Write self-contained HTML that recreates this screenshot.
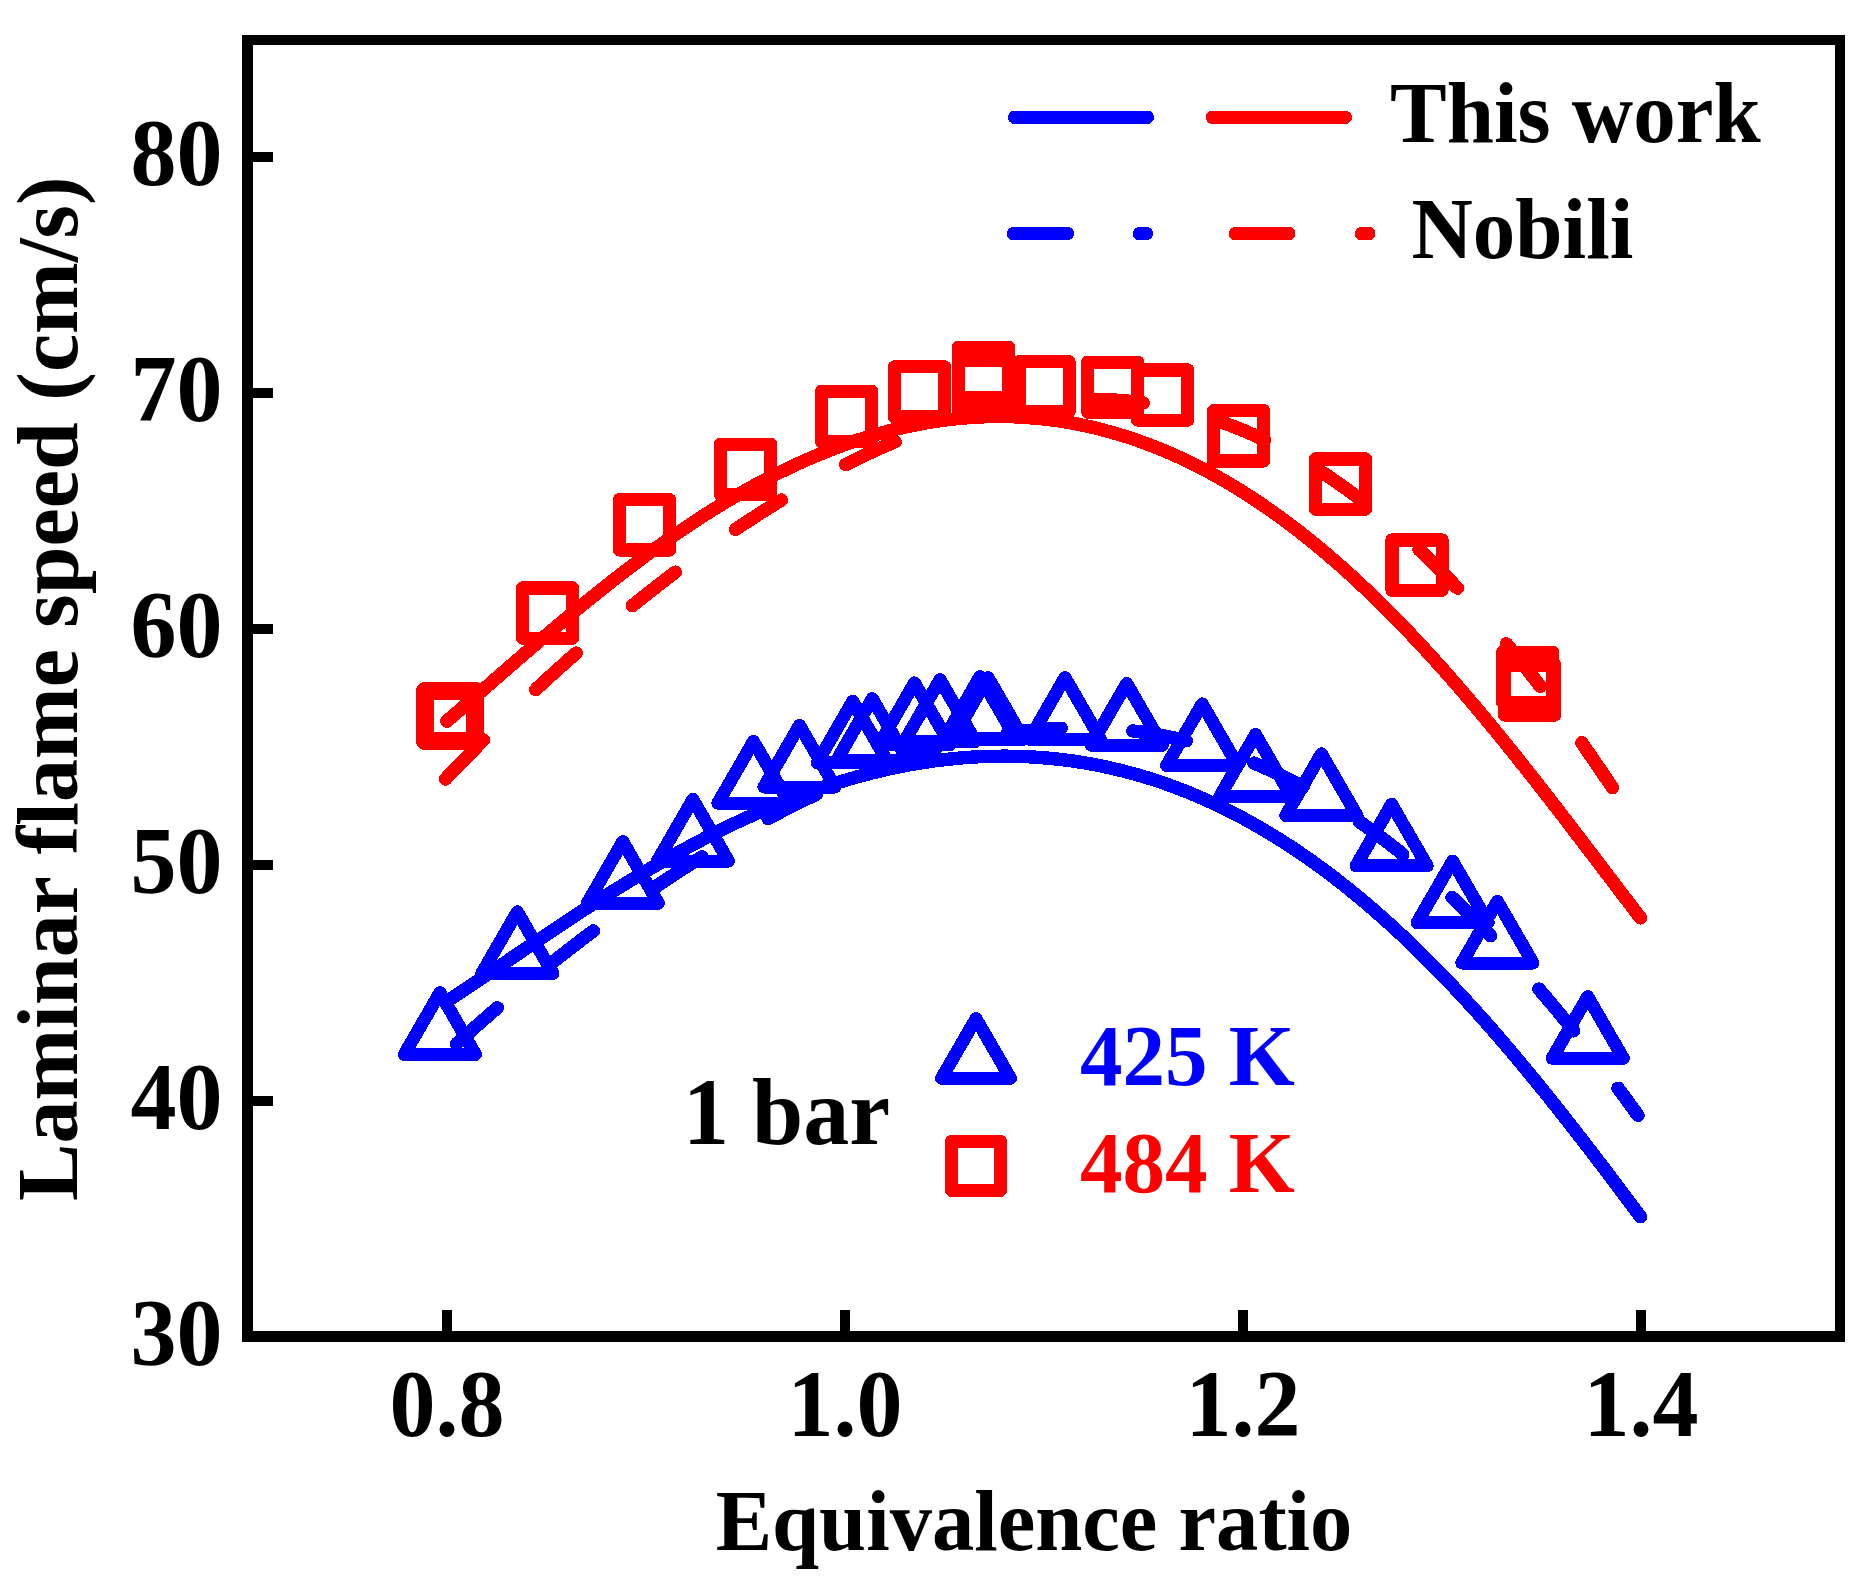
<!DOCTYPE html>
<html lang="en"><head><meta charset="utf-8"><title>Laminar flame speed vs equivalence ratio</title>
<style>html,body{margin:0;padding:0;background:#fff}svg{display:block}text{font-family:"Liberation Serif",serif;font-weight:bold;font-variant-ligatures:none;font-kerning:none}</style></head><body>
<svg width="1870" height="1590" viewBox="0 0 1870 1590">
<rect width="1870" height="1590" fill="#fff"/>
<g fill="#000" shape-rendering="crispEdges">
<rect x="242" y="35" width="11" height="1307"/><rect x="1835" y="35" width="10" height="1307"/><rect x="242" y="35" width="1603" height="10"/><rect x="242" y="1331" width="1603" height="11"/>
<rect x="253" y="152" width="20" height="10"/>
<rect x="253" y="388" width="20" height="10"/>
<rect x="253" y="624" width="20" height="10"/>
<rect x="253" y="860" width="20" height="10"/>
<rect x="253" y="1096" width="20" height="10"/>
<rect x="442" y="1310" width="10" height="21"/>
<rect x="840" y="1310" width="10" height="21"/>
<rect x="1238" y="1310" width="10" height="21"/>
<rect x="1636" y="1310" width="10" height="21"/>
</g>
<g font-size="92" fill="#000">
<text transform="translate(222.5 185.0) scale(1 1.03)" text-anchor="end">80</text>
<text transform="translate(222.5 421.0) scale(1 1.03)" text-anchor="end">70</text>
<text transform="translate(222.5 657.0) scale(1 1.03)" text-anchor="end">60</text>
<text transform="translate(222.5 893.0) scale(1 1.03)" text-anchor="end">50</text>
<text transform="translate(222.5 1129.0) scale(1 1.03)" text-anchor="end">40</text>
<text transform="translate(222.5 1365.0) scale(1 1.03)" text-anchor="end">30</text>
<text transform="translate(447 1436) scale(1 1.03)" text-anchor="middle">0.8</text>
<text transform="translate(845 1436) scale(1 1.03)" text-anchor="middle">1.0</text>
<text transform="translate(1243 1436) scale(1 1.03)" text-anchor="middle">1.2</text>
<text transform="translate(1641 1436) scale(1 1.03)" text-anchor="middle">1.4</text>
</g>
<text transform="translate(1034 1550) scale(1 1.02)" font-size="84.6" text-anchor="middle">Equivalence ratio</text>
<text transform="translate(77 688.6) rotate(-90) scale(1 1.02)" font-size="86" text-anchor="middle">Laminar flame speed (cm/s)</text>
<g fill="none" stroke-width="13.4" stroke-linecap="round" stroke-linejoin="round" shape-rendering="crispEdges">
<g stroke="#0000ff">
<path d="M446.6 1001.5 L449.6 999.5 L452.6 997.6 L455.6 995.6 L458.6 993.6 L461.6 991.7 L464.6 989.7 L467.6 987.7 L470.6 985.7 L473.6 983.7 L476.6 981.7 L479.6 979.7 L482.6 977.7 L485.6 975.7 L488.6 973.7 L491.6 971.6 L494.6 969.6 L497.6 967.6 L500.6 965.6 L503.6 963.5 L506.6 961.5 L509.6 959.5 L512.6 957.4 L515.6 955.4 L518.6 953.4 L521.6 951.4 L524.6 949.3 L527.6 947.3 L530.6 945.3 L533.6 943.3 L536.6 941.2 L539.6 939.2 L542.6 937.2 L545.6 935.2 L548.6 933.2 L551.6 931.2 L554.6 929.2 L557.6 927.2 L560.6 925.2 L563.6 923.2 L566.6 921.2 L569.6 919.2 L572.6 917.2 L575.6 915.3 L578.6 913.3 L581.6 911.3 L584.6 909.4 L587.6 907.4 L590.6 905.5 L593.6 903.6 L596.6 901.6 L599.6 899.7 L602.6 897.8 L605.6 895.9 L608.6 894.0 L611.6 892.1 L614.6 890.2 L617.6 888.4 L620.6 886.5 L623.6 884.7 L626.6 882.8 L629.6 881.0 L632.6 879.1 L635.6 877.3 L638.6 875.5 L641.6 873.7 L644.6 871.9 L647.6 870.1 L650.6 868.4 L653.6 866.6 L656.6 864.9 L659.6 863.1 L662.6 861.4 L665.6 859.7 L668.6 858.0 L671.6 856.3 L674.6 854.6 L677.6 852.9 L680.6 851.3 L683.6 849.6 L686.6 848.0 L689.6 846.4 L692.6 844.7 L695.6 843.1 L698.6 841.5 L701.6 840.0 L704.6 838.4 L707.6 836.8 L710.6 835.3 L713.6 833.8 L716.6 832.3 L719.6 830.8 L722.6 829.3 L725.6 827.8 L728.6 826.3 L731.6 824.9 L734.6 823.4 L737.6 822.0 L740.6 820.6 L743.6 819.2 L746.6 817.8 L749.6 816.5 L752.6 815.1 L755.6 813.8 L758.6 812.4 L761.6 811.1 L764.6 809.8 L767.6 808.5 L770.6 807.3 L773.6 806.0 L776.6 804.7 L779.6 803.5 L782.6 802.3 L785.6 801.1 L788.6 799.9 L791.6 798.7 L794.6 797.6 L797.6 796.4 L800.6 795.3 L803.6 794.2 L806.6 793.1 L809.6 792.0 L812.6 791.0 L815.6 789.9 L818.6 788.9 L821.6 787.8 L824.6 786.8 L827.6 785.8 L830.6 784.9 L833.6 783.9 L836.6 783.0 L839.6 782.0 L842.6 781.1 L845.6 780.2 L848.6 779.3 L851.6 778.5 L854.6 777.6 L857.6 776.8 L860.6 776.0 L863.6 775.2 L866.6 774.4 L869.6 773.6 L872.6 772.8 L875.6 772.1 L878.6 771.4 L881.6 770.7 L884.6 770.0 L887.6 769.3 L890.6 768.6 L893.6 768.0 L896.6 767.4 L899.6 766.8 L902.6 766.2 L905.6 765.6 L908.6 765.0 L911.6 764.5 L914.6 764.0 L917.6 763.5 L920.6 763.0 L923.6 762.5 L926.6 762.0 L929.6 761.6 L932.6 761.2 L935.6 760.7 L938.6 760.4 L941.6 760.0 L944.6 759.6 L947.6 759.3 L950.6 759.0 L953.6 758.7 L956.6 758.4 L959.6 758.1 L962.6 757.8 L965.6 757.6 L968.6 757.4 L971.6 757.2 L974.6 757.0 L977.6 756.8 L980.6 756.7 L983.6 756.6 L986.6 756.4 L989.6 756.3 L992.6 756.3 L995.6 756.2 L998.6 756.2 L1001.6 756.2 L1004.6 756.1 L1007.6 756.2 L1010.6 756.2 L1013.6 756.2 L1016.6 756.3 L1019.6 756.4 L1022.6 756.5 L1025.6 756.6 L1028.6 756.8 L1031.6 756.9 L1034.6 757.1 L1037.6 757.3 L1040.6 757.5 L1043.6 757.8 L1046.6 758.0 L1049.6 758.3 L1052.6 758.6 L1055.6 758.9 L1058.6 759.2 L1061.6 759.6 L1064.6 759.9 L1067.6 760.3 L1070.6 760.7 L1073.6 761.1 L1076.6 761.6 L1079.6 762.1 L1082.6 762.5 L1085.6 763.0 L1088.6 763.6 L1091.6 764.1 L1094.6 764.7 L1097.6 765.2 L1100.6 765.8 L1103.6 766.5 L1106.6 767.1 L1109.6 767.8 L1112.6 768.5 L1115.6 769.2 L1118.6 769.9 L1121.6 770.6 L1124.6 771.4 L1127.6 772.2 L1130.6 773.0 L1133.6 773.8 L1136.6 774.6 L1139.6 775.5 L1142.6 776.4 L1145.6 777.3 L1148.6 778.2 L1151.6 779.1 L1154.6 780.1 L1157.6 781.1 L1160.6 782.1 L1163.6 783.1 L1166.6 784.2 L1169.6 785.3 L1172.6 786.4 L1175.6 787.5 L1178.6 788.6 L1181.6 789.8 L1184.6 790.9 L1187.6 792.1 L1190.6 793.4 L1193.6 794.6 L1196.6 795.9 L1199.6 797.1 L1202.6 798.5 L1205.6 799.8 L1208.6 801.1 L1211.6 802.5 L1214.6 803.9 L1217.6 805.3 L1220.6 806.7 L1223.6 808.2 L1226.6 809.7 L1229.6 811.2 L1232.6 812.7 L1235.6 814.3 L1238.6 815.8 L1241.6 817.4 L1244.6 819.0 L1247.6 820.7 L1250.6 822.3 L1253.6 824.0 L1256.6 825.7 L1259.6 827.4 L1262.6 829.2 L1265.6 831.0 L1268.6 832.8 L1271.6 834.6 L1274.6 836.4 L1277.6 838.3 L1280.6 840.2 L1283.6 842.1 L1286.6 844.0 L1289.6 845.9 L1292.6 847.9 L1295.6 849.9 L1298.6 851.9 L1301.6 854.0 L1304.6 856.0 L1307.6 858.1 L1310.6 860.2 L1313.6 862.4 L1316.6 864.5 L1319.6 866.7 L1322.6 868.9 L1325.6 871.1 L1328.6 873.4 L1331.6 875.6 L1334.6 877.9 L1337.6 880.3 L1340.6 882.6 L1343.6 885.0 L1346.6 887.3 L1349.6 889.7 L1352.6 892.2 L1355.6 894.6 L1358.6 897.1 L1361.6 899.6 L1364.6 902.1 L1367.6 904.7 L1370.6 907.2 L1373.6 909.8 L1376.6 912.4 L1379.6 915.1 L1382.6 917.7 L1385.6 920.4 L1388.6 923.1 L1391.6 925.8 L1394.6 928.6 L1397.6 931.3 L1400.6 934.1 L1403.6 937.0 L1406.6 939.8 L1409.6 942.6 L1412.6 945.5 L1415.6 948.4 L1418.6 951.3 L1421.6 954.3 L1424.6 957.3 L1427.6 960.2 L1430.6 963.2 L1433.6 966.3 L1436.6 969.3 L1439.6 972.4 L1442.6 975.5 L1445.6 978.6 L1448.6 981.7 L1451.6 984.9 L1454.6 988.1 L1457.6 991.3 L1460.6 994.5 L1463.6 997.7 L1466.6 1001.0 L1469.6 1004.3 L1472.6 1007.6 L1475.6 1010.9 L1478.6 1014.2 L1481.6 1017.6 L1484.6 1020.9 L1487.6 1024.3 L1490.6 1027.7 L1493.6 1031.2 L1496.6 1034.6 L1499.6 1038.1 L1502.6 1041.6 L1505.6 1045.1 L1508.6 1048.6 L1511.6 1052.1 L1514.6 1055.7 L1517.6 1059.3 L1520.6 1062.9 L1523.6 1066.5 L1526.6 1070.1 L1529.6 1073.7 L1532.6 1077.4 L1535.6 1081.0 L1538.6 1084.7 L1541.6 1088.4 L1544.6 1092.1 L1547.6 1095.9 L1550.6 1099.6 L1553.6 1103.4 L1556.6 1107.1 L1559.6 1110.9 L1562.6 1114.7 L1565.6 1118.5 L1568.6 1122.4 L1571.6 1126.2 L1574.6 1130.0 L1577.6 1133.9 L1580.6 1137.8 L1583.6 1141.7 L1586.6 1145.5 L1589.6 1149.4 L1592.6 1153.4 L1595.6 1157.3 L1598.6 1161.2 L1601.6 1165.1 L1604.6 1169.1 L1607.6 1173.0 L1610.6 1177.0 L1613.6 1181.0 L1616.6 1184.9 L1619.6 1188.9 L1622.6 1192.9 L1625.6 1196.9 L1628.6 1200.9 L1631.6 1204.9 L1634.6 1208.9 L1637.6 1212.9 L1640.5 1216.8"/>
<path d="M456.6 1043.8 L459.6 1041.1 L462.6 1038.4 L465.6 1035.7 L468.6 1033.0 L471.6 1030.3 L474.6 1027.7 L477.6 1025.0 L480.6 1022.4 L483.6 1019.7 L486.6 1017.1 L489.6 1014.5 L492.6 1011.9 L495.6 1009.3 L497.4 1007.8M550.3 964.1 L553.3 961.7 L556.3 959.4 L559.3 957.0 L562.3 954.6 L565.3 952.3 L568.3 950.0 L571.3 947.7 L574.3 945.4 L577.3 943.1 L580.3 940.8 L583.3 938.5 L586.3 936.2 L589.3 934.0 L592.3 931.7 L593.5 930.9M656.2 886.4 L659.2 884.4 L662.2 882.4 L665.2 880.4 L668.2 878.4 L671.2 876.4 L674.2 874.5 L677.2 872.5 L680.2 870.6 L683.2 868.6 L686.2 866.7 L689.2 864.8 L692.2 862.9 L695.2 861.0 L698.2 859.2 L701.2 857.3 L702.0 856.8M768.0 818.6 L771.0 817.0 L774.0 815.4 L777.0 813.8 L780.0 812.3 L783.0 810.7 L786.0 809.2 L789.0 807.6 L792.0 806.1 L795.0 804.6 L798.0 803.1 L801.0 801.6 L804.0 800.2 L807.0 798.7 L810.0 797.3 L813.0 795.8 L816.0 794.4 L816.7 794.1M884.0 765.8 L887.0 764.7 L890.0 763.6 L893.0 762.5 L896.0 761.5 L899.0 760.4 L902.0 759.4 L905.0 758.4 L908.0 757.4 L911.0 756.4 L914.0 755.5 L917.0 754.5 L920.0 753.6 L923.0 752.6 L926.0 751.7 L929.0 750.9 L932.0 750.0 L935.0 749.1 L935.8 748.9M1007.0 733.4 L1010.0 733.0 L1013.0 732.5 L1016.0 732.1 L1019.0 731.7 L1022.0 731.4 L1025.0 731.0 L1028.0 730.7 L1031.0 730.4 L1034.0 730.1 L1037.0 729.8 L1040.0 729.5 L1043.0 729.3 L1046.0 729.1 L1049.0 728.9 L1052.0 728.7 L1055.0 728.5 L1058.0 728.3 L1061.0 728.2 L1061.2 728.2M1132.7 731.0 L1135.7 731.3 L1138.7 731.7 L1141.7 732.1 L1144.7 732.5 L1147.7 733.0 L1150.7 733.5 L1153.7 734.0 L1156.7 734.5 L1159.7 735.0 L1162.7 735.6 L1165.7 736.2 L1168.7 736.8 L1171.7 737.4 L1174.7 738.0 L1177.7 738.7 L1180.7 739.4 L1183.7 740.1 L1186.3 740.7M1254.0 763.1 L1257.0 764.4 L1260.0 765.7 L1263.0 767.0 L1266.0 768.3 L1269.0 769.7 L1272.0 771.1 L1275.0 772.5 L1278.0 773.9 L1281.0 775.3 L1284.0 776.8 L1287.0 778.3 L1290.0 779.8 L1293.0 781.4 L1296.0 782.9 L1299.0 784.5 L1302.0 786.2 L1303.1 786.7M1359.3 821.6 L1362.3 823.7 L1365.3 825.8 L1368.3 828.0 L1371.3 830.1 L1374.3 832.3 L1377.3 834.5 L1380.3 836.8 L1383.3 839.0 L1386.3 841.3 L1389.3 843.6 L1392.3 846.0 L1395.3 848.3 L1398.3 850.7 L1401.3 853.1 L1402.8 854.4M1452.0 897.5 L1455.0 900.3 L1458.0 903.2 L1461.0 906.1 L1464.0 909.0 L1467.0 911.9 L1470.0 914.8 L1473.0 917.8 L1476.0 920.8 L1479.0 923.8 L1482.0 926.9 L1485.0 930.0 L1488.0 933.1 L1490.7 935.8M1538.9 989.0 L1541.9 992.5 L1544.9 996.0 L1547.9 999.5 L1550.9 1003.1 L1553.9 1006.7 L1556.9 1010.3 L1559.9 1013.9 L1562.9 1017.6 L1565.9 1021.2 L1568.9 1024.9 L1571.9 1028.6 L1573.7 1030.9M1618.0 1088.2 L1621.0 1092.2 L1624.0 1096.3 L1627.0 1100.3 L1630.0 1104.4 L1633.0 1108.5 L1636.0 1112.7 L1638.0 1115.4"/>
<path stroke-width="13" d="M439.9 992.7 L475.5 1054.4 L404.3 1054.4Z"/>
<path stroke-width="13" d="M517.3 911.8 L552.9 973.5 L481.7 973.5Z"/>
<path stroke-width="13" d="M622.8 841.6 L658.4 903.3 L587.2 903.3Z"/>
<path stroke-width="13" d="M692.9 799.4 L728.5 861.1 L657.3 861.1Z"/>
<path stroke-width="13" d="M753.5 741.4 L789.1 803.1 L717.9 803.1Z"/>
<path stroke-width="13" d="M799.5 725.3 L835.1 787.0 L763.9 787.0Z"/>
<path stroke-width="13" d="M852.7 701.2 L888.3 762.9 L817.1 762.9Z"/>
<path stroke-width="13" d="M872.3 698.6 L907.9 760.3 L836.7 760.3Z"/>
<path stroke-width="13" d="M914.5 682.9 L950.1 744.6 L878.9 744.6Z"/>
<path stroke-width="13" d="M940.0 679.7 L975.6 741.4 L904.4 741.4Z"/>
<path stroke-width="13" d="M980.0 676.5 L1015.6 738.2 L944.4 738.2Z"/>
<path stroke-width="13" d="M988.0 677.5 L1023.6 739.2 L952.4 739.2Z"/>
<path stroke-width="13" d="M1065.0 677.5 L1100.6 739.2 L1029.4 739.2Z"/>
<path stroke-width="13" d="M1126.7 683.5 L1162.3 745.2 L1091.1 745.2Z"/>
<path stroke-width="13" d="M1202.2 703.9 L1237.8 765.6 L1166.6 765.6Z"/>
<path stroke-width="13" d="M1255.5 734.5 L1291.1 796.2 L1219.9 796.2Z"/>
<path stroke-width="13" d="M1321.4 753.8 L1357.0 815.5 L1285.8 815.5Z"/>
<path stroke-width="13" d="M1391.6 804.2 L1427.2 865.9 L1356.0 865.9Z"/>
<path stroke-width="13" d="M1452.6 861.1 L1488.2 922.8 L1417.0 922.8Z"/>
<path stroke-width="13" d="M1497.4 901.3 L1533.0 963.0 L1461.8 963.0Z"/>
<path stroke-width="13" d="M1587.7 996.6 L1623.3 1058.3 L1552.1 1058.3Z"/>
</g>
<g stroke="#ff0000">
<path d="M446.8 721.1 L449.8 718.6 L452.8 716.0 L455.8 713.4 L458.8 710.8 L461.8 708.2 L464.8 705.6 L467.8 703.0 L470.8 700.4 L473.8 697.8 L476.8 695.2 L479.8 692.6 L482.8 690.0 L485.8 687.4 L488.8 684.8 L491.8 682.1 L494.8 679.5 L497.8 676.9 L500.8 674.3 L503.8 671.7 L506.8 669.1 L509.8 666.5 L512.8 663.9 L515.8 661.3 L518.8 658.7 L521.8 656.1 L524.8 653.5 L527.8 650.9 L530.8 648.4 L533.8 645.8 L536.8 643.2 L539.8 640.6 L542.8 638.1 L545.8 635.5 L548.8 633.0 L551.8 630.4 L554.8 627.9 L557.8 625.4 L560.8 622.9 L563.8 620.4 L566.8 617.9 L569.8 615.4 L572.8 612.9 L575.8 610.4 L578.8 607.9 L581.8 605.5 L584.8 603.0 L587.8 600.6 L590.8 598.2 L593.8 595.7 L596.8 593.3 L599.8 590.9 L602.8 588.5 L605.8 586.2 L608.8 583.8 L611.8 581.4 L614.8 579.1 L617.8 576.8 L620.8 574.4 L623.8 572.1 L626.8 569.8 L629.8 567.5 L632.8 565.3 L635.8 563.0 L638.8 560.8 L641.8 558.5 L644.8 556.3 L647.8 554.1 L650.8 551.9 L653.8 549.7 L656.8 547.6 L659.8 545.4 L662.8 543.3 L665.8 541.2 L668.8 539.1 L671.8 537.0 L674.8 534.9 L677.8 532.8 L680.8 530.8 L683.8 528.7 L686.8 526.7 L689.8 524.7 L692.8 522.7 L695.8 520.8 L698.8 518.8 L701.8 516.9 L704.8 514.9 L707.8 513.0 L710.8 511.1 L713.8 509.3 L716.8 507.4 L719.8 505.6 L722.8 503.7 L725.8 501.9 L728.8 500.1 L731.8 498.4 L734.8 496.6 L737.8 494.9 L740.8 493.1 L743.8 491.4 L746.8 489.7 L749.8 488.1 L752.8 486.4 L755.8 484.8 L758.8 483.2 L761.8 481.6 L764.8 480.0 L767.8 478.4 L770.8 476.9 L773.8 475.3 L776.8 473.8 L779.8 472.3 L782.8 470.9 L785.8 469.4 L788.8 468.0 L791.8 466.5 L794.8 465.1 L797.8 463.8 L800.8 462.4 L803.8 461.1 L806.8 459.7 L809.8 458.4 L812.8 457.1 L815.8 455.9 L818.8 454.6 L821.8 453.4 L824.8 452.2 L827.8 451.0 L830.8 449.8 L833.8 448.7 L836.8 447.5 L839.8 446.4 L842.8 445.3 L845.8 444.2 L848.8 443.2 L851.8 442.2 L854.8 441.1 L857.8 440.1 L860.8 439.2 L863.8 438.2 L866.8 437.3 L869.8 436.4 L872.8 435.5 L875.8 434.6 L878.8 433.7 L881.8 432.9 L884.8 432.1 L887.8 431.3 L890.8 430.5 L893.8 429.8 L896.8 429.0 L899.8 428.3 L902.8 427.6 L905.8 426.9 L908.8 426.3 L911.8 425.7 L914.8 425.1 L917.8 424.5 L920.8 423.9 L923.8 423.4 L926.8 422.8 L929.8 422.3 L932.8 421.8 L935.8 421.4 L938.8 420.9 L941.8 420.5 L944.8 420.1 L947.8 419.7 L950.8 419.4 L953.8 419.0 L956.8 418.7 L959.8 418.4 L962.8 418.1 L965.8 417.9 L968.8 417.7 L971.8 417.5 L974.8 417.3 L977.8 417.1 L980.8 417.0 L983.8 416.8 L986.8 416.7 L989.8 416.7 L992.8 416.6 L995.8 416.6 L998.8 416.6 L1001.8 416.6 L1004.8 416.6 L1007.8 416.6 L1010.8 416.7 L1013.8 416.8 L1016.8 416.9 L1019.8 417.1 L1022.8 417.2 L1025.8 417.4 L1028.8 417.6 L1031.8 417.9 L1034.8 418.1 L1037.8 418.4 L1040.8 418.7 L1043.8 419.0 L1046.8 419.3 L1049.8 419.7 L1052.8 420.1 L1055.8 420.5 L1058.8 420.9 L1061.8 421.4 L1064.8 421.9 L1067.8 422.4 L1070.8 422.9 L1073.8 423.4 L1076.8 424.0 L1079.8 424.6 L1082.8 425.2 L1085.8 425.9 L1088.8 426.5 L1091.8 427.2 L1094.8 427.9 L1097.8 428.6 L1100.8 429.4 L1103.8 430.2 L1106.8 431.0 L1109.8 431.8 L1112.8 432.6 L1115.8 433.5 L1118.8 434.4 L1121.8 435.3 L1124.8 436.2 L1127.8 437.2 L1130.8 438.2 L1133.8 439.2 L1136.8 440.2 L1139.8 441.3 L1142.8 442.4 L1145.8 443.5 L1148.8 444.6 L1151.8 445.7 L1154.8 446.9 L1157.8 448.1 L1160.8 449.3 L1163.8 450.6 L1166.8 451.8 L1169.8 453.1 L1172.8 454.4 L1175.8 455.8 L1178.8 457.1 L1181.8 458.5 L1184.8 459.9 L1187.8 461.4 L1190.8 462.8 L1193.8 464.3 L1196.8 465.8 L1199.8 467.4 L1202.8 468.9 L1205.8 470.5 L1208.8 472.1 L1211.8 473.7 L1214.8 475.4 L1217.8 477.0 L1220.8 478.7 L1223.8 480.5 L1226.8 482.2 L1229.8 484.0 L1232.8 485.8 L1235.8 487.6 L1238.8 489.4 L1241.8 491.3 L1244.8 493.2 L1247.8 495.1 L1250.8 497.0 L1253.8 499.0 L1256.8 501.0 L1259.8 503.0 L1262.8 505.0 L1265.8 507.1 L1268.8 509.2 L1271.8 511.3 L1274.8 513.4 L1277.8 515.6 L1280.8 517.7 L1283.8 519.9 L1286.8 522.2 L1289.8 524.4 L1292.8 526.7 L1295.8 529.0 L1298.8 531.3 L1301.8 533.6 L1304.8 536.0 L1307.8 538.4 L1310.8 540.8 L1313.8 543.3 L1316.8 545.7 L1319.8 548.2 L1322.8 550.7 L1325.8 553.2 L1328.8 555.8 L1331.8 558.4 L1334.8 561.0 L1337.8 563.6 L1340.8 566.2 L1343.8 568.9 L1346.8 571.6 L1349.8 574.3 L1352.8 577.0 L1355.8 579.8 L1358.8 582.6 L1361.8 585.4 L1364.8 588.2 L1367.8 591.1 L1370.8 593.9 L1373.8 596.8 L1376.8 599.7 L1379.8 602.7 L1382.8 605.6 L1385.8 608.6 L1388.8 611.6 L1391.8 614.6 L1394.8 617.7 L1397.8 620.7 L1400.8 623.8 L1403.8 626.9 L1406.8 630.1 L1409.8 633.2 L1412.8 636.4 L1415.8 639.6 L1418.8 642.8 L1421.8 646.0 L1424.8 649.2 L1427.8 652.5 L1430.8 655.8 L1433.8 659.1 L1436.8 662.4 L1439.8 665.8 L1442.8 669.1 L1445.8 672.5 L1448.8 675.9 L1451.8 679.3 L1454.8 682.8 L1457.8 686.2 L1460.8 689.7 L1463.8 693.2 L1466.8 696.7 L1469.8 700.2 L1472.8 703.7 L1475.8 707.3 L1478.8 710.8 L1481.8 714.4 L1484.8 718.0 L1487.8 721.6 L1490.8 725.3 L1493.8 728.9 L1496.8 732.6 L1499.8 736.3 L1502.8 739.9 L1505.8 743.6 L1508.8 747.4 L1511.8 751.1 L1514.8 754.8 L1517.8 758.6 L1520.8 762.4 L1523.8 766.1 L1526.8 769.9 L1529.8 773.7 L1532.8 777.5 L1535.8 781.3 L1538.8 785.2 L1541.8 789.0 L1544.8 792.9 L1547.8 796.7 L1550.8 800.6 L1553.8 804.5 L1556.8 808.3 L1559.8 812.2 L1562.8 816.1 L1565.8 820.0 L1568.8 823.9 L1571.8 827.9 L1574.8 831.8 L1577.8 835.7 L1580.8 839.6 L1583.8 843.6 L1586.8 847.5 L1589.8 851.4 L1592.8 855.4 L1595.8 859.3 L1598.8 863.3 L1601.8 867.2 L1604.8 871.1 L1607.8 875.1 L1610.8 879.0 L1613.8 883.0 L1616.8 886.9 L1619.8 890.8 L1622.8 894.8 L1625.8 898.7 L1628.8 902.6 L1631.8 906.6 L1634.8 910.5 L1637.8 914.4 L1640.5 917.9"/>
<path d="M445.5 779.1 L448.5 775.9 L451.5 772.8 L454.5 769.7 L457.5 766.5 L460.5 763.4 L463.5 760.3 L466.5 757.2 L469.5 754.2 L472.5 751.1 L475.5 748.1 L478.5 745.0 L481.5 742.0 L483.5 740.0M535.7 689.6 L538.7 686.8 L541.7 684.1 L544.7 681.3 L547.7 678.6 L550.7 675.8 L553.7 673.1 L556.7 670.4 L559.7 667.7 L562.7 665.0 L565.7 662.3 L568.7 659.6 L571.7 657.0 L574.7 654.3 L576.1 653.1M632.4 605.7 L635.4 603.2 L638.4 600.8 L641.4 598.5 L644.4 596.1 L647.4 593.7 L650.4 591.3 L653.4 589.0 L656.4 586.7 L659.4 584.3 L662.4 582.0 L665.4 579.7 L668.4 577.4 L671.4 575.2 L674.4 572.9 L675.4 572.2M735.5 529.4 L738.5 527.4 L741.5 525.4 L744.5 523.4 L747.5 521.5 L750.5 519.5 L753.5 517.6 L756.5 515.6 L759.5 513.7 L762.5 511.8 L765.5 509.9 L768.5 508.0 L771.5 506.2 L774.5 504.3 L777.5 502.5 L780.5 500.7 L781.4 500.1M845.6 464.5 L848.6 463.0 L851.6 461.6 L854.6 460.1 L857.6 458.6 L860.6 457.2 L863.6 455.8 L866.6 454.4 L869.6 453.0 L872.6 451.6 L875.6 450.2 L878.6 448.9 L881.6 447.5 L884.6 446.2 L887.6 444.9 L890.6 443.7 L893.6 442.4 L895.1 441.8M963.5 417.7 L966.5 416.9 L969.5 416.0 L972.5 415.2 L975.5 414.4 L978.5 413.7 L981.5 412.9 L984.5 412.2 L987.5 411.5 L990.5 410.8 L993.5 410.1 L996.5 409.5 L999.5 408.8 L1002.5 408.2 L1005.5 407.6 L1008.5 407.0 L1011.5 406.5 L1014.5 405.9 L1016.6 405.6M1088.9 399.3 L1091.9 399.3 L1094.9 399.3 L1097.9 399.3 L1100.9 399.4 L1103.9 399.5 L1106.9 399.6 L1109.9 399.8 L1112.9 400.0 L1115.9 400.1 L1118.9 400.4 L1121.9 400.6 L1124.9 400.8 L1127.9 401.1 L1130.9 401.4 L1133.9 401.8 L1136.9 402.1 L1139.9 402.5 L1142.9 402.9 L1143.2 402.9M1214.0 419.5 L1217.0 420.5 L1220.0 421.5 L1223.0 422.6 L1226.0 423.7 L1229.0 424.8 L1232.0 425.9 L1235.0 427.1 L1238.0 428.3 L1241.0 429.5 L1244.0 430.7 L1247.0 432.0 L1250.0 433.3 L1253.0 434.6 L1256.0 435.9 L1259.0 437.3 L1262.0 438.7 L1264.5 439.9M1319.0 470.3 L1322.0 472.3 L1325.0 474.2 L1328.0 476.2 L1331.0 478.2 L1334.0 480.3 L1337.0 482.4 L1340.0 484.5 L1343.0 486.6 L1346.0 488.7 L1349.0 490.9 L1352.0 493.1 L1355.0 495.4 L1358.0 497.6 L1361.0 499.9 L1363.5 501.8M1419.0 549.6 L1422.0 552.4 L1425.0 555.3 L1428.0 558.2 L1431.0 561.2 L1434.0 564.1 L1437.0 567.1 L1440.0 570.1 L1443.0 573.2 L1446.0 576.2 L1449.0 579.3 L1452.0 582.4 L1455.0 585.6 L1457.5 588.2M1506.4 643.8 L1509.4 647.4 L1512.4 651.1 L1515.4 654.8 L1518.4 658.5 L1521.4 662.2 L1524.4 666.0 L1527.4 669.8 L1530.4 673.6 L1533.4 677.5 L1536.4 681.3 L1539.4 685.2 L1540.3 686.4M1581.7 742.8 L1584.7 747.1 L1587.7 751.4 L1590.7 755.7 L1593.7 760.1 L1596.7 764.5 L1599.7 768.8 L1602.7 773.3 L1605.7 777.7 L1608.7 782.2 L1611.7 786.7 L1612.5 787.8"/>
<rect x="425" y="691" width="50" height="50" stroke-width="18"/>
<rect stroke-width="13.2" x="522.4" y="587.9" width="50.2" height="50.2"/>
<rect stroke-width="13.2" x="619.4" y="499.7" width="50.2" height="50.2"/>
<rect stroke-width="13.2" x="720.4" y="444.2" width="50.2" height="50.2"/>
<rect stroke-width="13.2" x="821.5" y="391.3" width="50.2" height="50.2"/>
<rect stroke-width="13.2" x="894.4" y="366.8" width="50.2" height="50.2"/>
<rect stroke-width="13.2" x="958.4" y="347.2" width="50.2" height="50.2"/>
<rect stroke-width="13.2" x="958.4" y="359.9" width="50.2" height="50.2"/>
<rect stroke-width="13.2" x="1018.9" y="361.7" width="50.2" height="50.2"/>
<rect stroke-width="13.2" x="1087.7" y="362.1" width="50.2" height="50.2"/>
<rect stroke-width="13.2" x="1137.5" y="369.9" width="50.2" height="50.2"/>
<rect stroke-width="13.2" x="1213.5" y="410.7" width="50.2" height="50.2"/>
<rect stroke-width="13.2" x="1315.4" y="458.9" width="50.2" height="50.2"/>
<rect stroke-width="13.2" x="1391.9" y="540.0" width="50.2" height="50.2"/>
<rect stroke-width="13.2" x="1502.6" y="652.2" width="50.2" height="50.2"/>
<rect stroke-width="13.2" x="1504.5" y="664.9" width="50.2" height="50.2"/>
</g>
<path stroke="#0000ff" d="M1014.6 117.3H1147.4"/><path stroke="#ff0000" d="M1212.4 117.3H1345.3"/>
<path stroke="#0000ff" d="M1013.4 233.6H1067.4M1139.4 233.6H1146.4"/><path stroke="#ff0000" d="M1235.4 233.6H1288.8M1361.4 233.6H1368.8"/>
<path stroke-width="13" stroke="#0000ff" d="M976 1018.6L1010.5 1078.3L941.5 1078.3Z"/>
<rect stroke-width="13" stroke="#ff0000" x="951.5" y="1141.4" width="49" height="49"/>
</g>
<g font-size="85">
<text transform="translate(1390 141.9) scale(1 1.025)">This work</text><text transform="translate(1411.5 257.9) scale(1 1.025)">Nobili</text>
<text transform="translate(1080 1084.8) scale(1 1.03)" fill="#0000ff">425 K</text><text transform="translate(1080 1191.7) scale(1 1.03)" fill="#ff0000">484 K</text>
</g>
<text transform="translate(683 1143.9) scale(1 1.03)" font-size="92">1 bar</text>
</svg></body></html>
